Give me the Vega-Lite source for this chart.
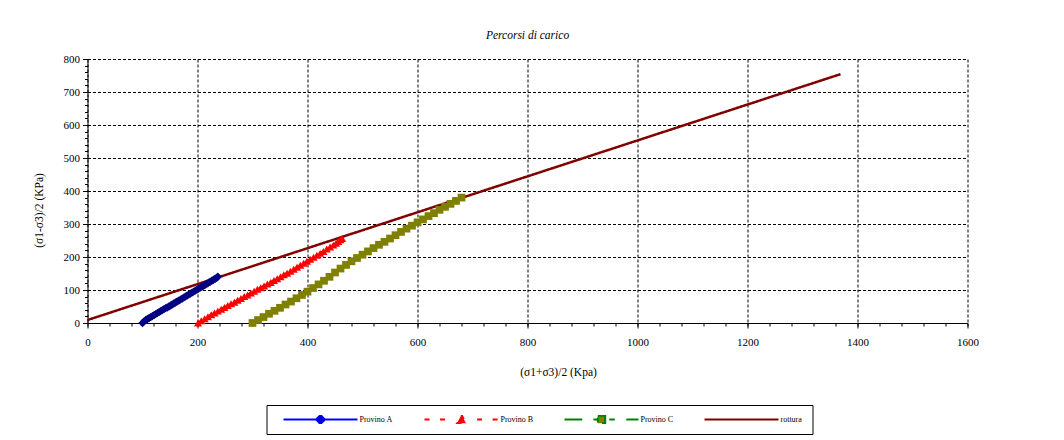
{
  "$schema": "https://vega.github.io/schema/vega-lite/v6.json",
  "width": 880,
  "height": 264,
  "autosize": {"type": "none"},
  "padding": {"left": 87.5, "top": 59, "right": 96.5, "bottom": 117},
  "background": "white",
  "title": {"text": "Percorsi di carico", "fontStyle": "italic", "fontSize": 11.5, "fontWeight": "normal", "font": "Liberation Serif", "color": "black", "offset": 12},
  "config": {
    "font": "Liberation Serif",
    "view": {"stroke": null},
    "axis": {"domainColor": "black", "tickColor": "black", "labelColor": "black", "titleColor": "black", "labelFont": "Liberation Serif", "titleFont": "Liberation Serif", "titleFontWeight": "normal"}
  },
  "data": {"values": [
    {"s": "rottura", "x": 0, "y": 9},
    {"s": "rottura", "x": 1369, "y": 754},
    {"s": "Provino A", "x": 100, "y": 0}, {"s": "Provino A", "x": 103, "y": 5}, {"s": "Provino A", "x": 106, "y": 9}, {"s": "Provino A", "x": 109, "y": 12}, {"s": "Provino A", "x": 112, "y": 15}, {"s": "Provino A", "x": 115, "y": 18}, {"s": "Provino A", "x": 118, "y": 21}, {"s": "Provino A", "x": 121, "y": 24}, {"s": "Provino A", "x": 124, "y": 27}, {"s": "Provino A", "x": 127, "y": 30}, {"s": "Provino A", "x": 130, "y": 33}, {"s": "Provino A", "x": 133, "y": 36}, {"s": "Provino A", "x": 136, "y": 39}, {"s": "Provino A", "x": 139, "y": 42}, {"s": "Provino A", "x": 142, "y": 45}, {"s": "Provino A", "x": 145, "y": 47}, {"s": "Provino A", "x": 148, "y": 50}, {"s": "Provino A", "x": 151, "y": 53}, {"s": "Provino A", "x": 154, "y": 56}, {"s": "Provino A", "x": 157, "y": 59}, {"s": "Provino A", "x": 160, "y": 62}, {"s": "Provino A", "x": 163, "y": 65}, {"s": "Provino A", "x": 166, "y": 68}, {"s": "Provino A", "x": 169, "y": 71}, {"s": "Provino A", "x": 172, "y": 74}, {"s": "Provino A", "x": 175, "y": 77}, {"s": "Provino A", "x": 178, "y": 80}, {"s": "Provino A", "x": 181, "y": 83}, {"s": "Provino A", "x": 184, "y": 86}, {"s": "Provino A", "x": 187, "y": 89}, {"s": "Provino A", "x": 190, "y": 92}, {"s": "Provino A", "x": 193, "y": 95}, {"s": "Provino A", "x": 196, "y": 98}, {"s": "Provino A", "x": 199, "y": 101}, {"s": "Provino A", "x": 202, "y": 104}, {"s": "Provino A", "x": 205, "y": 107}, {"s": "Provino A", "x": 208, "y": 110}, {"s": "Provino A", "x": 211, "y": 113}, {"s": "Provino A", "x": 214, "y": 116}, {"s": "Provino A", "x": 217, "y": 119}, {"s": "Provino A", "x": 220, "y": 122}, {"s": "Provino A", "x": 223, "y": 125}, {"s": "Provino A", "x": 226, "y": 128}, {"s": "Provino A", "x": 229, "y": 131}, {"s": "Provino A", "x": 232, "y": 134}, {"s": "Provino A", "x": 235, "y": 137}, {"s": "Provino A", "x": 237, "y": 140},
    {"s": "Provino B", "x": 201, "y": 0}, {"s": "Provino B", "x": 207, "y": 7}, {"s": "Provino B", "x": 213, "y": 13}, {"s": "Provino B", "x": 219, "y": 19}, {"s": "Provino B", "x": 225, "y": 25}, {"s": "Provino B", "x": 231, "y": 30}, {"s": "Provino B", "x": 237, "y": 36}, {"s": "Provino B", "x": 243, "y": 42}, {"s": "Provino B", "x": 249, "y": 47}, {"s": "Provino B", "x": 255, "y": 53}, {"s": "Provino B", "x": 261, "y": 58}, {"s": "Provino B", "x": 267, "y": 63}, {"s": "Provino B", "x": 273, "y": 69}, {"s": "Provino B", "x": 279, "y": 74}, {"s": "Provino B", "x": 285, "y": 80}, {"s": "Provino B", "x": 291, "y": 85}, {"s": "Provino B", "x": 297, "y": 91}, {"s": "Provino B", "x": 303, "y": 96}, {"s": "Provino B", "x": 309, "y": 102}, {"s": "Provino B", "x": 315, "y": 107}, {"s": "Provino B", "x": 321, "y": 112}, {"s": "Provino B", "x": 327, "y": 118}, {"s": "Provino B", "x": 333, "y": 123}, {"s": "Provino B", "x": 339, "y": 129}, {"s": "Provino B", "x": 345, "y": 134}, {"s": "Provino B", "x": 351, "y": 140}, {"s": "Provino B", "x": 357, "y": 146}, {"s": "Provino B", "x": 363, "y": 151}, {"s": "Provino B", "x": 369, "y": 157}, {"s": "Provino B", "x": 375, "y": 163}, {"s": "Provino B", "x": 381, "y": 169}, {"s": "Provino B", "x": 387, "y": 175}, {"s": "Provino B", "x": 393, "y": 181}, {"s": "Provino B", "x": 399, "y": 187}, {"s": "Provino B", "x": 405, "y": 193}, {"s": "Provino B", "x": 411, "y": 199}, {"s": "Provino B", "x": 417, "y": 205}, {"s": "Provino B", "x": 423, "y": 211}, {"s": "Provino B", "x": 429, "y": 217}, {"s": "Provino B", "x": 435, "y": 224}, {"s": "Provino B", "x": 441, "y": 230}, {"s": "Provino B", "x": 447, "y": 236}, {"s": "Provino B", "x": 452, "y": 242}, {"s": "Provino B", "x": 456, "y": 247}, {"s": "Provino B", "x": 460, "y": 252}, {"s": "Provino B", "x": 463, "y": 256},
    {"s": "Provino C", "x": 300, "y": 0}, {"s": "Provino C", "x": 310, "y": 9}, {"s": "Provino C", "x": 320, "y": 18}, {"s": "Provino C", "x": 330, "y": 28}, {"s": "Provino C", "x": 340, "y": 37}, {"s": "Provino C", "x": 350, "y": 46}, {"s": "Provino C", "x": 360, "y": 56}, {"s": "Provino C", "x": 370, "y": 65}, {"s": "Provino C", "x": 380, "y": 75}, {"s": "Provino C", "x": 390, "y": 85}, {"s": "Provino C", "x": 400, "y": 95}, {"s": "Provino C", "x": 410, "y": 106}, {"s": "Provino C", "x": 420, "y": 117}, {"s": "Provino C", "x": 430, "y": 128}, {"s": "Provino C", "x": 440, "y": 140}, {"s": "Provino C", "x": 450, "y": 153}, {"s": "Provino C", "x": 460, "y": 165}, {"s": "Provino C", "x": 470, "y": 176}, {"s": "Provino C", "x": 480, "y": 187}, {"s": "Provino C", "x": 490, "y": 197}, {"s": "Provino C", "x": 500, "y": 207}, {"s": "Provino C", "x": 510, "y": 217}, {"s": "Provino C", "x": 520, "y": 227}, {"s": "Provino C", "x": 530, "y": 237}, {"s": "Provino C", "x": 540, "y": 246}, {"s": "Provino C", "x": 550, "y": 256}, {"s": "Provino C", "x": 560, "y": 266}, {"s": "Provino C", "x": 570, "y": 276}, {"s": "Provino C", "x": 580, "y": 286}, {"s": "Provino C", "x": 590, "y": 295}, {"s": "Provino C", "x": 600, "y": 305}, {"s": "Provino C", "x": 610, "y": 314}, {"s": "Provino C", "x": 620, "y": 324}, {"s": "Provino C", "x": 630, "y": 333}, {"s": "Provino C", "x": 640, "y": 343}, {"s": "Provino C", "x": 650, "y": 352}, {"s": "Provino C", "x": 660, "y": 361}, {"s": "Provino C", "x": 670, "y": 370}, {"s": "Provino C", "x": 680, "y": 380}
  ]},
  "resolve": {"axis": {"x": "independent", "y": "independent"}},
  "layer": [
    {
      "mark": {"type": "line", "strokeWidth": 2.5},
      "encoding": {
        "x": {"field": "x", "type": "quantitative", "scale": {"domain": [0, 1600], "nice": false, "zero": false},
          "axis": {"orient": "bottom", "values": [0, 200, 400, 600, 800, 1000, 1200, 1400, 1600], "format": "d", "grid": true, "gridDash": [3, 2], "gridColor": "black", "gridWidth": 1, "gridOpacity": 1, "tickSize": 5, "labelFontSize": 11, "labelPadding": 8, "labelFlush": false, "title": "(σ1+σ3)/2 (Kpa)", "titleFontSize": 11.5, "titleX": 470.5, "titlePadding": 19}},
        "y": {"field": "y", "type": "quantitative", "scale": {"domain": [0, 800], "nice": false, "zero": false},
          "axis": {"orient": "left", "values": [0, 100, 200, 300, 400, 500, 600, 700, 800], "format": "d", "grid": true, "gridDash": [3, 2], "gridColor": "black", "gridWidth": 1, "gridOpacity": 1, "tickSize": 5, "labelFontSize": 11, "labelPadding": 3, "labelFlush": false, "title": "(σ1-σ3)/2 (KPa)", "titleFontSize": 11.5, "titleY": 151, "titlePadding": 19}},
        "color": {"field": "s", "type": "nominal",
          "scale": {"domain": ["Provino A", "Provino B", "Provino C", "rottura"], "range": ["#0000FF", "#FF0000", "#008000", "#800000"]},
          "legend": {
            "orient": "none", "legendX": 179, "legendY": 346, "direction": "horizontal", "gridAlign": "none",
            "title": null, "strokeColor": "black", "fillColor": "white", "padding": 10,
            "symbolSize": 5476, "symbolStrokeWidth": 2, "symbolOffset": 6, "labelOffset": 1,
            "labelFontSize": 8, "labelFont": "Liberation Serif", "labelColor": "black",
            "columnPadding": 24, "clipHeight": 9, "symbolType": "stroke",
            "encode": {"symbols": {"update": {
              "shape": {"signal": "datum.value === 'Provino A' ? 'M-1,0L1,0M0,-0.12L0.12,0L0,0.12L-0.12,0Z' : datum.value === 'Provino B' ? 'M-1,0L-0.84,0M-0.58,0L-0.42,0M0.42,0L0.58,0M0.84,0L1,0M0,-0.13L0.12,0.1L-0.12,0.1Z' : datum.value === 'Provino C' ? 'M-1,0L-0.52,0M-0.22,0L-0.08,0M0.21,0L0.36,0M0.67,0L1,0M-0.1,-0.1L0.1,-0.1L0.1,0.1L-0.1,0.1Z' : 'M-1,0L1,0'"},
              "fill": {"signal": "datum.value === 'Provino A' ? '#000080' : datum.value === 'Provino B' ? '#FF0000' : datum.value === 'Provino C' ? '#808000' : 'transparent'"},
              "stroke": {"signal": "datum.value === 'Provino A' ? '#0000FF' : datum.value === 'Provino B' ? '#FF0000' : datum.value === 'Provino C' ? '#008000' : '#800000'"},
              "strokeDash": {"value": []},
              "strokeWidth": {"value": 2},
              "opacity": {"value": 1}
            }}}
          }},
        "strokeDash": {"field": "s", "type": "nominal",
          "scale": {"domain": ["Provino A", "Provino B", "Provino C", "rottura"], "range": [[1, 0], [5, 9], [18, 5, 5, 5], [1, 0]]},
          "legend": null}
      }
    },
    {
      "transform": [{"filter": "datum.s !== 'rottura'"}],
      "mark": {"type": "point", "filled": true, "strokeWidth": 0, "opacity": 1},
      "encoding": {
        "x": {"field": "x", "type": "quantitative",
          "axis": {"orient": "bottom", "values": [0, 40, 80, 120, 160, 200, 240, 280, 320, 360, 400, 440, 480, 520, 560, 600, 640, 680, 720, 760, 800, 840, 880, 920, 960, 1000, 1040, 1080, 1120, 1160, 1200, 1240, 1280, 1320, 1360, 1400, 1440, 1480, 1520, 1560, 1600], "labels": false, "domain": false, "grid": false, "tickSize": 3, "title": null}},
        "y": {"field": "y", "type": "quantitative",
          "axis": {"orient": "left", "values": [0, 20, 40, 60, 80, 100, 120, 140, 160, 180, 200, 220, 240, 260, 280, 300, 320, 340, 360, 380, 400, 420, 440, 460, 480, 500, 520, 540, 560, 580, 600, 620, 640, 660, 680, 700, 720, 740, 760, 780, 800], "labels": false, "domain": false, "grid": false, "tickSize": 3, "title": null}},
        "shape": {"field": "s", "type": "nominal", "scale": {"domain": ["Provino A", "Provino B", "Provino C"], "range": ["diamond", "triangle-up", "square"]}, "legend": null},
        "size": {"field": "s", "type": "ordinal", "scale": {"domain": ["Provino A", "Provino B", "Provino C"], "range": [70, 60, 50]}, "legend": null},
        "fill": {"field": "s", "type": "nominal", "scale": {"domain": ["Provino A", "Provino B", "Provino C"], "range": ["#000080", "#FF0000", "#808000"]}, "legend": null}
      }
    }
  ]
}
